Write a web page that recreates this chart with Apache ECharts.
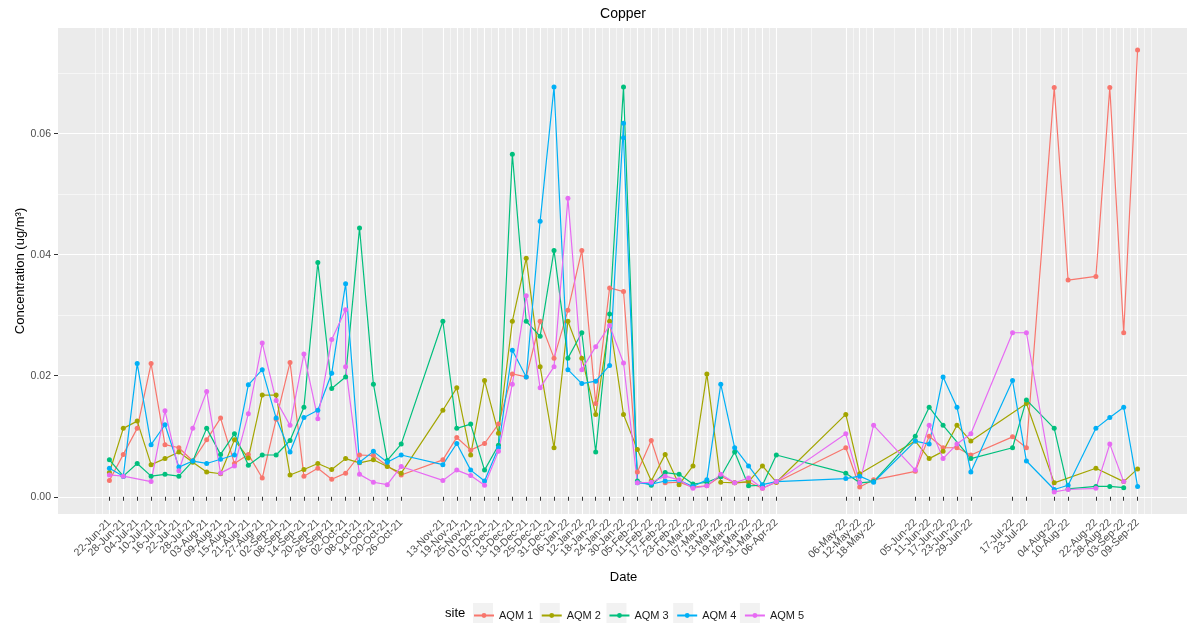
<!DOCTYPE html>
<html>
<head>
<meta charset="utf-8">
<title>Copper</title>
<script src="https://cdn.jsdelivr.net/npm/echarts@6/dist/echarts.min.js"></script>
<style>
  html, body { margin: 0; padding: 0; background: #fff; }
  #chart { width: 1187px; height: 628px; }
</style>
</head>
<body>
<div id="chart"></div>
<script>
// sampling dates, they are also the x axis breaks
const dates = [
  '2021-06-22', '2021-06-28', '2021-07-04', '2021-07-10', '2021-07-16', '2021-07-22', '2021-07-28',
  '2021-08-03', '2021-08-09', '2021-08-15', '2021-08-21', '2021-08-27', '2021-09-02', '2021-09-08',
  '2021-09-14', '2021-09-20', '2021-09-26', '2021-10-02', '2021-10-08', '2021-10-14', '2021-10-20',
  '2021-10-26', '2021-11-13', '2021-11-19', '2021-11-25', '2021-12-01', '2021-12-07', '2021-12-13',
  '2021-12-19', '2021-12-25', '2021-12-31', '2022-01-06', '2022-01-12', '2022-01-18', '2022-01-24',
  '2022-01-30', '2022-02-05', '2022-02-11', '2022-02-17', '2022-02-23', '2022-03-01', '2022-03-07',
  '2022-03-13', '2022-03-19', '2022-03-25', '2022-03-31', '2022-04-06', '2022-05-06', '2022-05-12',
  '2022-05-18', '2022-06-05', '2022-06-11', '2022-06-17', '2022-06-23', '2022-06-29', '2022-07-17',
  '2022-07-23', '2022-08-04', '2022-08-10', '2022-08-22', '2022-08-28', '2022-09-03', '2022-09-09'
];

// concentration per site, one value per date (null = no sample, [a, b] = two samples that day)
const aqm1 = [
  0.0027, 0.0070, 0.0113, 0.0220, 0.0086, 0.0081, 0.0059, 0.0094, 0.0130, 0.0055, 0.0070,
  0.0031, 0.0128, 0.0222, 0.0034, 0.0047, 0.0029, 0.0039, 0.0069, 0.0068, 0.0051, 0.0036,
  0.0061, 0.0098, 0.0077, 0.0088, 0.0120, 0.0203, 0.0198, 0.0290, 0.0229,
  0.0308, 0.0407, 0.0154, 0.0345, 0.0339, 0.0041, 0.0093, 0.0023, 0.0024, 0.0016, 0.0018,
  0.0034, 0.0023, 0.0024, 0.0014, 0.0024,
  0.0081, 0.0016, 0.0028,
  0.0042, 0.0100, 0.0081, 0.0081, 0.0069,
  0.0099, 0.0081,
  0.0676, 0.0358,
  0.0364, 0.0676, 0.0271, 0.0738
];
const aqm2 = [
  0.0040, 0.0113, 0.0125, 0.0053, 0.0063, 0.0074, 0.0057, 0.0041, 0.0038, 0.0094, 0.0064,
  0.0168, 0.0168, 0.0036, 0.0045, 0.0055, 0.0045, 0.0063, 0.0056, 0.0061, 0.0050, 0.0039,
  0.0143, 0.0180, 0.0069, 0.0192, 0.0105, 0.0290, 0.0394, 0.0215, 0.0081,
  0.0290, 0.0229, 0.0136, 0.0290, 0.0136, 0.0078, 0.0026, 0.0070, 0.0020, 0.0051, 0.0203,
  0.0024, 0.0023, 0.0025, 0.0051, 0.0024,
  0.0136, 0.0038, null,
  0.0092, 0.0063, 0.0075, 0.0118, 0.0092,
  null, 0.0154,
  0.0023, null,
  0.0047, null, 0.0025, 0.0046
];
const aqm3 = [
  0.0061, 0.0034, 0.0055, 0.0034, 0.0037, 0.0034, 0.0059, 0.0113, 0.0070, 0.0104, 0.0052,
  0.0069, 0.0069, 0.0093, 0.0148, 0.0387, 0.0179, 0.0198, 0.0444, 0.0186, 0.0060, 0.0087,
  0.0290, 0.0113, 0.0120, 0.0044, 0.0085, 0.0566, 0.0290, 0.0265, 0.0407,
  0.0229, 0.0271, 0.0074, 0.0302, 0.0677, 0.0026, 0.0019, 0.0040, 0.0037, 0.0021, 0.0024,
  0.0033, 0.0074, 0.0018, 0.0019, 0.0069,
  0.0039, 0.0023, 0.0025,
  0.0100, 0.0148, 0.0118, null, 0.0063,
  0.0081, 0.0160,
  0.0113, 0.0013,
  0.0017, 0.0017, 0.0015, null
];
const aqm4 = [
  0.0047, 0.0034, 0.0220, 0.0086, 0.0119, 0.0049, 0.0059, 0.0055, 0.0062, 0.0069, 0.0185,
  0.0210, 0.0130, 0.0074, 0.0131, 0.0143, 0.0204, 0.0352, 0.0057, 0.0075, 0.0057, 0.0069,
  0.0053, 0.0088, 0.0044, 0.0026, 0.0081, 0.0242, 0.0198, 0.0455, 0.0677,
  0.0210, 0.0187, 0.0191, 0.0217, [0.0617, 0.0593], 0.0023, 0.0021, 0.0026, 0.0027, 0.0017, 0.0028,
  0.0186, 0.0081, 0.0051, 0.0020, 0.0025,
  0.0030, 0.0034, 0.0024,
  0.0092, 0.0087, 0.0198, 0.0148, 0.0041,
  0.0192, 0.0059,
  0.0012, 0.0019,
  0.0113, 0.0131, 0.0148, 0.0017
];
const aqm5 = [
  0.0036, 0.0034, null, 0.0025, 0.0142, 0.0043, 0.0113, 0.0174, 0.0039, 0.0051, 0.0137,
  0.0254, 0.0159, 0.0118, 0.0236, 0.0129, 0.0260, [0.0309, 0.0215], 0.0037, 0.0024, 0.0020, 0.0050,
  0.0027, 0.0044, 0.0035, 0.0019, 0.0075, 0.0186, 0.0332, 0.0180, 0.0215,
  0.0493, 0.0210, 0.0248, 0.0283, 0.0221, 0.0023, 0.0024, 0.0034, 0.0028, 0.0014, 0.0018,
  0.0037, 0.0023, 0.0031, 0.0014, 0.0025,
  0.0104, 0.0023, 0.0118,
  0.0044, 0.0118, 0.0063, 0.0087, 0.0104,
  0.0271, 0.0271,
  0.0008, 0.0012,
  0.0014, 0.0087, 0.0025, null
];

const sites = ['AQM 1', 'AQM 2', 'AQM 3', 'AQM 4', 'AQM 5'];
const siteValues = [aqm1, aqm2, aqm3, aqm4, aqm5];
const yBreaks = [0, 0.02, 0.04, 0.06];
const yMinorBreaks = [0.01, 0.03, 0.05, 0.07];

const siteColors = ['#F8766D', '#A3A500', '#00BF7D', '#00B0F6', '#E76BF3'];
const months = ['Jan', 'Feb', 'Mar', 'Apr', 'May', 'Jun', 'Jul', 'Aug', 'Sep', 'Oct', 'Nov', 'Dec'];
const FONT = '"Liberation Sans", Arial, sans-serif';

function toTime(s) {
  const p = s.split('-');
  return new Date(+p[0], +p[1] - 1, +p[2]).getTime();
}
function pad(n) {
  return n < 10 ? '0' + n : '' + n;
}
function fmtDate(t) {
  const d = new Date(t);
  return pad(d.getDate()) + '-' + months[d.getMonth()] + '-' + pad(d.getFullYear() % 100);
}

const times = dates.map(toTime);

function pairs(vals) {
  const out = [];
  vals.forEach((v, i) => {
    if (v == null) return;
    [].concat(v).forEach(x => out.push([times[i], x]));
  });
  return out;
}

// minor grid like ggplot: half way between breaks, plus one step outside each end
const step = times[1] - times[0];
const ext = [times[0] - step].concat(times, [times[times.length - 1] + step]);
const xMinor = [ext[0]];
for (let i = 0; i < ext.length - 1; i++) {
  xMinor.push((ext[i] + ext[i + 1]) / 2);
}
xMinor.push(ext[ext.length - 1]);

// 5% expansion of the data range on both axes
const tSpan = times[times.length - 1] - times[0];
const xMin = times[0] - 0.05 * tSpan;
const xMax = times[times.length - 1] + 0.05 * tSpan;
let all = [];
siteValues.forEach(v => v.forEach(x => { if (x != null) all = all.concat(x); }));
const vMin = Math.min.apply(null, all);
const vMax = Math.max.apply(null, all);
const yMin = vMin - 0.05 * (vMax - vMin);
const yMax = vMax + 0.05 * (vMax - vMin);

// blank labels at both ends of the axis so echarts does not drop a crowded end label
const xLabelValues = [xMin].concat(times, [xMax]);

const chart = echarts.init(document.getElementById('chart'));

const option = {
  animation: false,
  backgroundColor: '#ffffff',
  textStyle: { fontFamily: FONT },
  grid: {
    left: 58, right: -2, top: 28, bottom: 114,
    containLabel: false, outerBoundsMode: 'none',
    show: true, backgroundColor: '#EBEBEB', borderWidth: 0
  },
  graphic: [
    {
      type: 'text', x: 623, y: 14, z: 10,
      style: { text: 'Copper', align: 'center', verticalAlign: 'middle', fontSize: 14, fontFamily: FONT, fill: '#000' }
    },
    {
      type: 'text', x: 445, y: 613, z: 10,
      style: { text: 'site', align: 'left', verticalAlign: 'middle', fontSize: 13, fontFamily: FONT, fill: '#000' }
    }
  ],
  legend: [
    {
      // grey key backgrounds
      data: sites, left: 473, top: 603, padding: 0,
      itemWidth: 20, itemHeight: 20, itemGap: 7.5,
      icon: 'rect',
      itemStyle: { color: '#F2F2F2', borderWidth: 0 },
      textStyle: { fontSize: 11, color: 'rgba(0,0,0,0)', fontFamily: FONT },
      selectedMode: false, z: 3
    },
    {
      data: sites, left: 473, top: 610, padding: 0,
      itemWidth: 20, itemHeight: 6, itemGap: 7.5,
      textStyle: { fontSize: 11, color: '#1a1a1a', fontFamily: FONT },
      selectedMode: false, z: 4
    }
  ],
  xAxis: [
    {
      type: 'value', min: xMin, max: xMax,
      name: 'Date', nameLocation: 'middle', nameGap: 57,
      nameTextStyle: { fontSize: 13, color: '#000', fontFamily: FONT },
      axisLine: { show: false },
      axisTick: { show: true, length: 4, customValues: times, lineStyle: { color: '#333333', width: 1 } },
      axisLabel: {
        customValues: xLabelValues, rotate: 45, margin: 7, hideOverlap: false,
        showMinLabel: true, showMaxLabel: true,
        fontSize: 10.5, color: '#4D4D4D', fontFamily: FONT,
        formatter: v => (times.indexOf(v) >= 0 ? fmtDate(v) : ' ')
      },
      splitLine: { show: true, lineStyle: { color: '#ffffff', width: 1.1 } }
    },
    {
      // minor grid lines
      type: 'value', min: xMin, max: xMax, position: 'top',
      axisLine: { show: false },
      axisTick: { show: false, customValues: xMinor },
      axisLabel: { show: false, customValues: xMinor },
      splitLine: { show: true, lineStyle: { color: '#ffffff', width: 0.55 } }
    }
  ],
  yAxis: [
    {
      type: 'value', min: yMin, max: yMax,
      name: 'Concentration (ug/m\u00B3)', nameLocation: 'middle', nameGap: 31,
      nameMoveOverlap: false,
      nameTextStyle: { fontSize: 13, color: '#000', fontFamily: FONT },
      axisLine: { show: false },
      axisTick: { show: true, length: 4, customValues: yBreaks, lineStyle: { color: '#333333', width: 1 } },
      axisLabel: {
        customValues: yBreaks, margin: 7, fontSize: 10.5, color: '#4D4D4D', fontFamily: FONT,
        showMinLabel: true, showMaxLabel: true,
        formatter: v => v.toFixed(2)
      },
      splitLine: { show: true, lineStyle: { color: '#ffffff', width: 1.1 } }
    },
    {
      type: 'value', min: yMin, max: yMax, position: 'right',
      axisLine: { show: false },
      axisTick: { show: false, customValues: yMinorBreaks },
      axisLabel: { show: false, customValues: yMinorBreaks },
      splitLine: { show: true, lineStyle: { color: '#ffffff', width: 0.55 } }
    }
  ],
  series: sites.map((name, k) => ({
    name: name,
    type: 'line',
    xAxisIndex: 0,
    yAxisIndex: 0,
    data: pairs(siteValues[k]),
    symbol: 'circle',
    symbolSize: 5,
    showAllSymbol: true,
    lineStyle: { width: 1.2, color: siteColors[k] },
    itemStyle: { color: siteColors[k] },
    emphasis: { disabled: true },
    z: 2
  }))
};

chart.setOption(option);
</script>
</body>
</html>
